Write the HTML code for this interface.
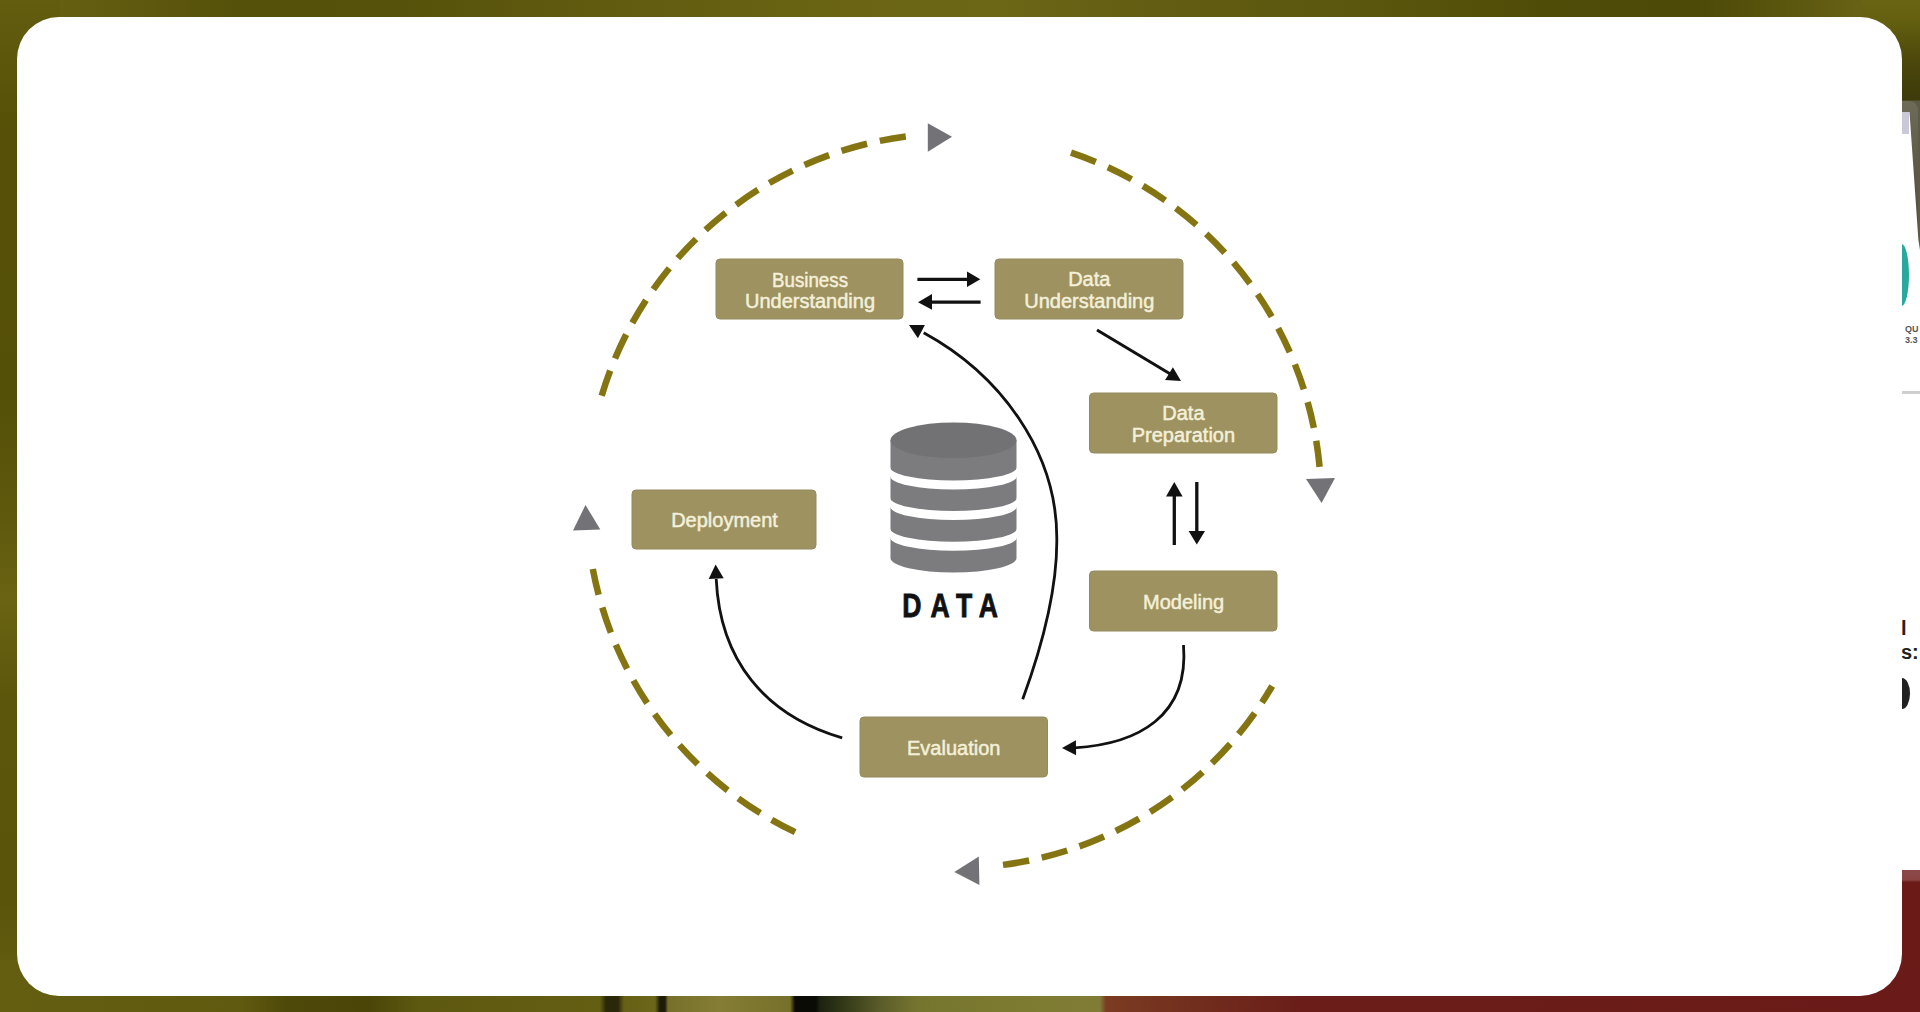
<!DOCTYPE html>
<html><head><meta charset="utf-8">
<style>
html,body{margin:0;padding:0;}
body{width:1920px;height:1012px;overflow:hidden;position:relative;background:#5d570e;font-family:"Liberation Sans",sans-serif;}
.abs{position:absolute;}
#bgtop{left:0;top:0;width:1920px;height:60px;background:linear-gradient(90deg,#6a6413 0px,#605a0f 120px,#55500a 250px,#57520b 400px,#615b10 600px,#6a6414 850px,#6c6617 1000px,#625d12 1150px,#5b570e 1350px,#4f4c08 1550px,#4d4a08 1700px,#6a6416 1880px,#6b6516 1920px);}
#bgleft{left:0;top:0;width:60px;height:1012px;background:linear-gradient(180deg,#635d10 0px,#575108 120px,#555008 400px,#5f590e 520px,#6a6313 600px,#5c560c 700px,#5a540b 900px,#676113 1012px);}
#bgbot{left:0;top:960px;width:1920px;height:52px;background:linear-gradient(90deg,#645e11 0px,#605a10 240px,#4e4809 290px,#4b4608 370px,#5e5910 420px,#645e13 600px,#2a2808 606px,#2a2808 618px,#666016 624px,#6c661a 655px,#1e1c08 660px,#1e1c08 665px,#77702a 668px,#857d35 720px,#77702a 790px,#0b0b06 795px,#0b0b06 816px,#1c2210 820px,#2f3516 840px,#5a5c2a 880px,#76752f 917px,#7c7a30 1000px,#807c36 1100px,#7b3c22 1106px,#73301e 1180px,#6b1e19 1300px,#6a1a18 1920px);}
#bgright{left:1862px;top:0;width:58px;height:1012px;background:linear-gradient(180deg,#6a6415 0px,#646010 20px,#55500c 45px,#48440b 70px,#3e3a0a 100px,#5d5b47 101px,#5d5b47 860px,#8c4848 870px,#8a4444 880px,#6b1a17 882px,#6a1a18 1012px);}
#card{left:17px;top:17px;width:1885px;height:979px;background:#fff;border-radius:42px;}
svg{position:absolute;left:0;top:0;}
</style></head><body>
<div class="abs" id="bgtop"></div>
<div class="abs" id="bgleft"></div>
<div class="abs" id="bgbot"></div>
<div class="abs" id="bgright"></div>
<!-- right strip: neighbouring card -->
<div class="abs" style="left:1902px;top:101px;width:16px;height:160px;background:linear-gradient(180deg,#6e6c58,#5d5b47 40%,#4e4c38);border-top-right-radius:9px;"></div>
<div class="abs" style="left:1902px;top:112px;width:18px;height:758px;background:#fff;clip-path:polygon(0 0,7.5px 0,16.4px 128px,18px 138px,18px 100%,0 100%);"></div>
<div class="abs" style="left:1902px;top:112px;width:7px;height:22px;background:#c9c9d8;"></div>
<div class="abs" style="left:1894px;top:244px;width:15px;height:62px;border-radius:50%;background:#2aa89c;"></div>
<div class="abs" style="left:1902px;top:391px;width:18px;height:3px;background:#cfcfcf;"></div>
<div class="abs" style="left:1905px;top:324px;font-size:9px;line-height:11px;color:#555;font-weight:bold;">QU<br>3.3</div>
<div class="abs" style="left:1901px;top:616px;font-size:20px;line-height:24px;color:#222;font-weight:bold;">l<br>s:</div>
<div class="abs" style="left:1894px;top:678px;width:16px;height:31px;border-radius:50%;background:#222;"></div>
<div class="abs" id="card"></div>
<svg width="1920" height="1012" viewBox="0 0 1920 1012">
 <g fill="none" stroke="#857512" stroke-width="6.5">
  <path d="M601.7,395.8 A367.4,367.4 0 0 1 905.8,136.5" stroke-dasharray="26.50 13.11"/>
  <path d="M1071.0,152.6 A367.4,367.4 0 0 1 1319.6,466.9" stroke-dasharray="26.50 13.24"/>
  <path d="M1003.0,864.9 A367.4,367.4 0 0 0 1272.2,686.0" stroke-dasharray="26.5 12.9"/>
  <path d="M795.1,832.1 A367.4,367.4 0 0 1 592.8,569.0" stroke-dasharray="26.50 13.23"/>
 </g>
 <g fill="#737276">
  <polygon points="927.8,123.2 952,136.7 927.8,151.8"/>
  <polygon points="1306,479 1335,478 1321.6,503"/>
  <polygon points="954.3,872 978.8,856.4 979.4,885"/>
  <polygon points="585.5,505 573,530.5 600.3,529.5"/>
 </g>
 <g fill="none" stroke="#111" stroke-width="2.8">
  <path d="M1022.7,699.3 C1040.9,649.6 1057.3,592.3 1056.8,539.0 C1057.2,450.1 998.9,373.9 923.7,332.8"/>
  <path d="M1183.5,645.0 C1189.2,716.4 1137.9,744.0 1074.4,747.8"/>
  <path d="M842.2,737.9 C764.2,715.1 719.9,659.9 716.2,578.9"/>
  <path d="M1097,330 L1172,375" stroke-width="3"/>
  <path d="M917.4,279.3 L970,279.3" stroke-width="3.3"/>
  <path d="M929,302.2 L980.6,302.2" stroke-width="3.3"/>
  <path d="M1174.3,490 L1174.3,545" stroke-width="3.3"/>
  <path d="M1196.8,482 L1196.8,535" stroke-width="3.3"/>
 </g>
 <g fill="#111">
  <polygon points="909.0,325.0 924.9,324.9 917.9,338.2"/>
  <polygon points="1062.0,748.0 1075.9,740.3 1076.1,755.3"/>
  <polygon points="715.6,564.6 723.7,578.3 708.7,578.9"/>
  <polygon points="1181.0,381.0 1165.1,380.1 1172.9,367.3"/>
  <polygon points="980.3,279.3 967,271.6 967,286.9"/>
  <polygon points="918,302.2 932,294 932,309.8"/>
  <polygon points="1174.3,482 1166,496.5 1182.6,496.5"/>
  <polygon points="1196.8,544.5 1188.6,531 1205,531"/>
 </g>
 <!-- database -->
 <g>
  <path d="M890.5,440.3 L890.5,558 A63,14.5 0 0 0 1016.5,558 L1016.5,440.3 Z" fill="#7c7b7e"/>
  <ellipse cx="953.5" cy="440.3" rx="63" ry="17.8" fill="#727174"/>
  <g fill="#fff">
   <path d="M890,467 A63.5,13.5 0 0 0 1017,467 L1017,476 A63.5,13.5 0 0 1 890,476 Z"/>
   <path d="M890,497.5 A63.5,13.5 0 0 0 1017,497.5 L1017,506.5 A63.5,13.5 0 0 1 890,506.5 Z"/>
   <path d="M890,528.3 A63.5,13.5 0 0 0 1017,528.3 L1017,537.3 A63.5,13.5 0 0 1 890,537.3 Z"/>
  </g>
 </g>
 <!-- boxes -->
 <g fill="#9d9260" stroke="#938a60" stroke-width="1">
  <rect x="716" y="259" width="187" height="60" rx="4"/>
  <rect x="995" y="259" width="188" height="60" rx="4"/>
  <rect x="1089.5" y="393" width="187.5" height="60" rx="4"/>
  <rect x="1089.5" y="571" width="187.5" height="60" rx="4"/>
  <rect x="860" y="717" width="187.5" height="60" rx="4"/>
  <rect x="632" y="490" width="184" height="59" rx="4"/>
 </g>
 <g fill="#f4f0da" stroke="#f4f0da" stroke-width="0.5" font-family="Liberation Sans" font-size="20" text-anchor="middle">
  <text x="810" y="287.2" textLength="76" lengthAdjust="spacingAndGlyphs">Business</text>
  <text x="810" y="307.9">Understanding</text>
  <text x="1089.3" y="286.4">Data</text>
  <text x="1089.3" y="308">Understanding</text>
  <text x="1183.4" y="420">Data</text>
  <text x="1183.4" y="441.6">Preparation</text>
  <text x="1183.6" y="608.5">Modeling</text>
  <text x="724.5" y="527.4">Deployment</text>
  <text x="953.7" y="754.7">Evaluation</text>
 </g>
 <g fill="#111" stroke="#111" stroke-width="0.9" font-family="Liberation Sans" font-weight="bold" font-size="33.6">
  <text transform="translate(902.2,617.2) scale(0.79,1)">D</text>
  <text transform="translate(930.4,617.2) scale(0.79,1)">A</text>
  <text transform="translate(956,617.2) scale(0.79,1)">T</text>
  <text transform="translate(978.8,617.2) scale(0.79,1)">A</text>
 </g>
</svg>
</body></html>
